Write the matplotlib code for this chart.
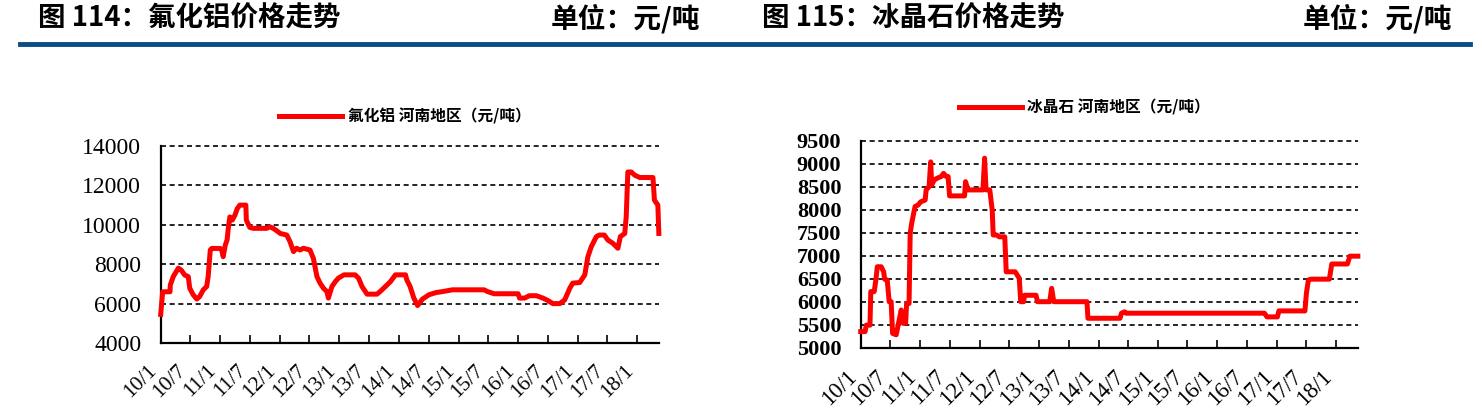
import matplotlib
matplotlib.use("Agg")
import matplotlib.pyplot as plt
from matplotlib.lines import Line2D
import pandas as pd

# ---------------- data ----------------
alf3_dates = ["2010-01-01", "2010-01-13", "2010-02-27", "2010-03-01", "2010-03-19", "2010-04-19",
              "2010-05-07", "2010-05-28", "2010-06-19", "2010-06-28", "2010-07-19", "2010-08-10",
              "2010-08-28", "2010-09-19", "2010-10-10", "2010-10-19", "2010-11-01", "2010-11-10",
              "2011-01-01", "2011-01-10", "2011-01-19", "2011-02-01", "2011-02-12", "2011-02-18",
              "2011-03-01", "2011-03-16", "2011-04-01", "2011-04-16", "2011-05-01", "2011-06-07",
              "2011-06-10", "2011-07-01", "2011-07-22", "2011-10-13", "2011-11-01", "2011-11-22",
              "2011-12-13", "2012-01-04", "2012-02-13", "2012-03-04", "2012-03-25", "2012-04-13",
              "2012-05-04", "2012-05-25", "2012-07-04", "2012-07-25", "2012-08-16", "2012-09-04",
              "2012-09-25", "2012-10-16", "2012-10-25", "2012-11-16", "2012-12-07", "2012-12-25",
              "2013-01-28", "2013-04-07", "2013-04-28", "2013-05-19", "2013-06-19", "2013-08-19",
              "2013-09-07", "2013-10-10", "2013-11-10", "2013-12-10", "2014-02-10", "2014-02-18",
              "2014-03-10", "2014-04-01", "2014-04-25", "2014-05-25", "2014-07-04", "2014-08-16",
              "2014-09-25", "2014-11-25", "2015-06-07", "2015-06-28", "2015-08-07", "2016-01-01",
              "2016-01-10", "2016-02-10", "2016-03-10", "2016-04-22", "2016-06-01", "2016-07-01",
              "2016-08-01", "2016-09-13", "2016-10-13", "2016-11-13", "2016-12-01", "2017-01-13",
              "2017-02-13", "2017-03-04", "2017-03-25", "2017-04-25", "2017-05-13", "2017-06-13",
              "2017-07-04", "2017-08-04", "2017-09-04", "2017-09-19", "2017-10-16", "2017-10-25",
              "2017-11-04", "2017-11-25", "2017-12-16", "2018-01-16", "2018-04-07", "2018-04-16",
              "2018-05-07", "2018-05-13"]
alf3_values = [5450, 6600, 6600, 6950, 7370, 7800,
               7700, 7450, 7370, 6780, 6450, 6230,
               6360, 6700, 6870, 7370, 8720, 8800,
               8800, 8720, 8380, 8970, 9230, 9730,
               10400, 10240, 10490, 10830, 11000, 11000,
               10240, 9870, 9820, 9820, 9900, 9820,
               9700, 9560, 9480, 9140, 8640, 8810,
               8720, 8810, 8720, 8300, 7370, 7040,
               6780, 6610, 6280, 6870, 7120, 7290,
               7460, 7460, 7290, 6870, 6480, 6480,
               6610, 6870, 7120, 7460, 7460, 7200,
               6870, 6300, 5900, 6230, 6450, 6560,
               6610, 6700, 6700, 6610, 6500, 6500,
               6280, 6280, 6400, 6400, 6280, 6160,
               6000, 6000, 6190, 6780, 7040, 7070,
               7460, 8380, 8890, 9400, 9480, 9480,
               9230, 9060, 8810, 9400, 9560, 10410,
               12680, 12680, 12520, 12400, 12400, 11250,
               11000, 9560]

cryo_dates = ["2010-01-01", "2010-01-28", "2010-02-04", "2010-02-27", "2010-03-04", "2010-03-25",
              "2010-04-04", "2010-04-13", "2010-05-07", "2010-05-22", "2010-05-28", "2010-06-13",
              "2010-06-25", "2010-07-07", "2010-07-16", "2010-08-07", "2010-08-19", "2010-09-07",
              "2010-09-19", "2010-10-04", "2010-10-10", "2010-10-25", "2010-11-01", "2010-11-10",
              "2010-11-16", "2010-12-01", "2010-12-19", "2011-01-04", "2011-02-01", "2011-02-07",
              "2011-02-25", "2011-03-07", "2011-03-13", "2011-03-28", "2011-04-13", "2011-05-10",
              "2011-05-25", "2011-06-07", "2011-06-22", "2011-07-01", "2011-10-01", "2011-10-07",
              "2011-10-22", "2012-01-22", "2012-02-01", "2012-02-10", "2012-03-04", "2012-03-19",
              "2012-03-25", "2012-04-16", "2012-05-01", "2012-06-04", "2012-06-13", "2012-08-07",
              "2012-09-01", "2012-09-10", "2012-09-28", "2012-10-04", "2012-12-13", "2012-12-22",
              "2013-03-07", "2013-03-19", "2013-04-01", "2013-10-22", "2013-10-28", "2014-05-13",
              "2014-05-22", "2014-06-10", "2014-06-19", "2016-10-16", "2016-11-01", "2017-01-04",
              "2017-01-13", "2017-06-22", "2017-07-01", "2017-07-13", "2017-07-28", "2017-11-19",
              "2017-12-04", "2018-03-10", "2018-03-25", "2018-05-13"]
cryo_values = [5350, 5350, 5490, 5490, 6220, 6220,
               6470, 6760, 6760, 6650, 6490, 6470,
               6000, 6000, 5310, 5280, 5490, 5820,
               5530, 5530, 5960, 5960, 7490, 7700,
               7810, 8070, 8100, 8170, 8210, 8430,
               8500, 9040, 8540, 8640, 8680, 8720,
               8790, 8730, 8720, 8300, 8300, 8610,
               8430, 8430, 9120, 8430, 8430, 7990,
               7450, 7450, 7410, 7410, 6650, 6650,
               6510, 6000, 6000, 6140, 6140, 6000,
               6000, 6290, 6000, 6000, 5640, 5640,
               5750, 5780, 5750, 5750, 5670, 5670,
               5800, 5800, 6180, 6470, 6490, 6490,
               6820, 6820, 6990, 6990]

tick_dates = ["2010-01-01", "2010-07-01", "2011-01-01", "2011-07-01", "2012-01-01", "2012-07-01",
              "2013-01-01", "2013-07-01", "2014-01-01", "2014-07-01", "2015-01-01", "2015-07-01",
              "2016-01-01", "2016-07-01", "2017-01-01", "2017-07-01", "2018-01-01"]
tick_labels = ["10/1", "10/7", "11/1", "11/7", "12/1", "12/7", "13/1", "13/7", "14/1",
               "14/7", "15/1", "15/7", "16/1", "16/7", "17/1", "17/7", "18/1"]

alf3_yticks = [4000, 6000, 8000, 10000, 12000, 14000]
cryo_yticks = [5000, 5500, 6000, 6500, 7000, 7500, 8000, 8500, 9000, 9500]

x_start, x_end = "2010-01-01", "2018-05-14"

titles_left = ["图 114：氟化铝价格走势", "图 115：冰晶石价格走势"]
unit_text = "单位：元/吨"
legend_labels = ["氟化铝 河南地区（元/吨）", "冰晶石 河南地区（元/吨）"]

# ---------------- figure ----------------
W, H = 1482, 419
fig = plt.figure(figsize=(W / 100, H / 100), dpi=100)
fig.patch.set_facecolor("white")

CJK = ["Noto Sans CJK SC", "DejaVu Sans"]
RED = "#FF0000"
BLUE = "#0B4B86"

# header
for xl, xr, t in [(38, 700, titles_left[0]), (762, 1452, titles_left[1])]:
    fig.text(xl / W, 1 - 19 / H, t, ha="left", va="center", fontsize=19.8,
             fontweight="bold", family=CJK)
    fig.text(xr / W, 1 - 19 / H, unit_text, ha="right", va="center", fontsize=20,
             fontweight="bold", family=CJK)
fig.add_artist(Line2D([20 / W, 1470 / W], [1 - 44 / H, 1 - 44 / H], color=BLUE, lw=3.5))


def make_axes(rect_px, dates, values, yticks, ylim, ylab_font, xlab_size, legend_label, leg_anchor):
    x0, x1, ytop, ybot = rect_px
    ax = fig.add_axes([x0 / W, (H - ybot) / H, (x1 - x0) / W, (ybot - ytop) / H])
    d = pd.to_datetime(dates)
    ax.plot(d, values, color=RED, lw=3.6, solid_joinstyle="round", zorder=3,
            clip_on=False, label=legend_label)
    ax.set_xlim(pd.Timestamp(x_start), pd.Timestamp(x_end))
    ax.set_ylim(*ylim)
    ax.set_yticks(yticks)
    ax.set_yticklabels([str(v) for v in yticks], **ylab_font)
    ax.set_xticks(pd.to_datetime(tick_dates))
    ax.set_xticklabels(tick_labels, rotation=45, ha="right", rotation_mode="default",
                       family="Liberation Serif", fontsize=xlab_size)
    for v in yticks:
        if v != ylim[0]:
            ax.axhline(v, color="black", lw=1.2, ls=(0, (3, 2.2)), zorder=1, clip_on=False)
    for s in ["top", "right"]:
        ax.spines[s].set_visible(False)
    for s in ["left", "bottom"]:
        ax.spines[s].set_linewidth(1.6)
        ax.spines[s].set_color("black")
    ax.tick_params(axis="y", length=0, pad=14)
    ax.tick_params(axis="x", direction="in", length=6, width=1.2, pad=13)
    ax.legend(loc="center", bbox_to_anchor=leg_anchor, frameon=False,
              handlelength=4.0, handletextpad=0.35,
              prop={"family": CJK, "weight": "bold", "size": 11.3})
    return ax


make_axes((160.7, 659, 146, 343), alf3_dates, alf3_values, alf3_yticks, (4000, 14000),
          {"family": "Liberation Serif", "fontsize": 17}, 15.5, legend_labels[0], (0.49, 1.15))
make_axes((860.7, 1358, 140.7, 347.7), cryo_dates, cryo_values, cryo_yticks, (5000, 9500),
          {"family": "Liberation Serif", "fontsize": 16, "fontweight": "bold"}, 16.5,
          legend_labels[1], (0.45, 1.163))

fig.savefig("out.png", dpi=100, facecolor="white")
